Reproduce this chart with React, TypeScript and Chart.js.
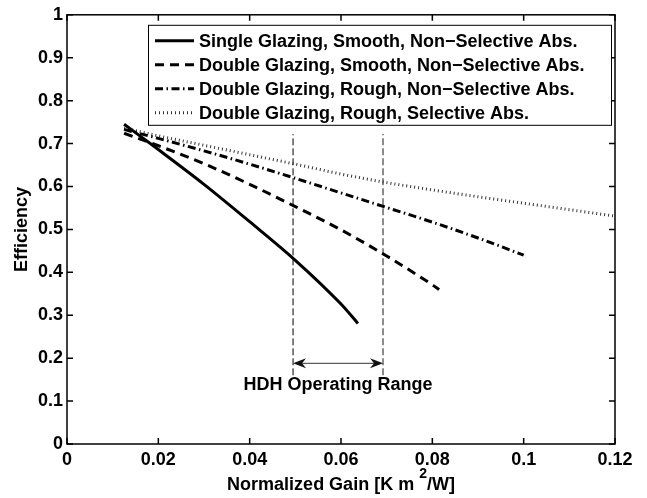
import React, { useEffect, useRef } from 'react';
import { Chart, registerables } from 'chart.js';

Chart.register(...registerables);

const FONT = '"Liberation Sans", Arial, Helvetica, sans-serif';

// ---- Data ----
const singleX = [0.0125, 0.02, 0.03, 0.04, 0.05, 0.06, 0.0637];
const singleY = [0.745, 0.686, 0.605, 0.518, 0.428, 0.326, 0.281];

const doubleSmoothX = [0.0125, 0.02, 0.03, 0.04, 0.05, 0.06, 0.07, 0.08, 0.0815];
const doubleSmoothY = [0.724, 0.695, 0.653, 0.605, 0.553, 0.499, 0.438, 0.371, 0.36];

const doubleRoughX = [0.0125, 0.02, 0.03, 0.04, 0.05, 0.06, 0.07, 0.08, 0.09, 0.1];
const doubleRoughY = [0.733, 0.712, 0.683, 0.652, 0.619, 0.585, 0.551, 0.517, 0.48, 0.44];

const selectiveX = [0.0125, 0.02, 0.03, 0.04, 0.05, 0.06, 0.07, 0.08, 0.09, 0.1, 0.11, 0.12];
const selectiveY = [0.736, 0.718, 0.696, 0.674, 0.652, 0.629, 0.609, 0.592, 0.576, 0.561, 0.546, 0.531];

const seriesLabels = [
  'Single Glazing, Smooth, Non\u2212Selective Abs.',
  'Double Glazing, Smooth, Non\u2212Selective Abs.',
  'Double Glazing, Rough, Non\u2212Selective Abs.',
  'Double Glazing, Rough, Selective Abs.',
];

const xTickValues = [0, 0.02, 0.04, 0.06, 0.08, 0.1, 0.12];
const xTickLabels = ['0', '0.02', '0.04', '0.06', '0.08', '0.1', '0.12'];
const yTickValues = [0, 0.1, 0.2, 0.3, 0.4, 0.5, 0.6, 0.7, 0.8, 0.9, 1];
const yTickLabels = ['0', '0.1', '0.2', '0.3', '0.4', '0.5', '0.6', '0.7', '0.8', '0.9', '1'];

const xTitleMain = 'Normalized Gain [K m ';
const xTitleSup = '2';
const xTitleEnd = '/W]';
const yTitle = 'Efficiency';

const rangeLimits = [0.0495, 0.0692];
const rangeLineY = [0.16, 0.722];
const arrowY = 0.188;
const rangeLabel = 'HDH Operating Range';
const rangeLabelY = 0.137;

const toPts = (xs: number[], ys: number[]) => xs.map((x, i) => ({ x, y: ys[i] }));

function drawHead(ctx: CanvasRenderingContext2D, x: number, y: number, dir: number) {
  ctx.beginPath();
  ctx.moveTo(x, y);
  ctx.lineTo(x + dir * 13, y - 5);
  ctx.lineTo(x + dir * 9, y);
  ctx.lineTo(x + dir * 13, y + 5);
  ctx.closePath();
  ctx.fill();
}

const overlay = {
  id: 'overlay',
  afterDatasetsDraw(chart: any) {
    const { ctx, chartArea: a, scales } = chart;
    const xs = scales.x;
    const ys = scales.y;
    ctx.save();

    // frame
    ctx.strokeStyle = '#000';
    ctx.lineWidth = 1.5;
    ctx.strokeRect(a.left, a.top, a.right - a.left, a.bottom - a.top);

    // inward ticks on all four sides
    const TL = 6;
    ctx.beginPath();
    xTickValues.forEach((v) => {
      const px = xs.getPixelForValue(v);
      ctx.moveTo(px, a.bottom);
      ctx.lineTo(px, a.bottom - TL);
      ctx.moveTo(px, a.top);
      ctx.lineTo(px, a.top + TL);
    });
    yTickValues.forEach((v) => {
      const py = ys.getPixelForValue(v);
      ctx.moveTo(a.left, py);
      ctx.lineTo(a.left + TL, py);
      ctx.moveTo(a.right, py);
      ctx.lineTo(a.right - TL, py);
    });
    ctx.stroke();

    // arrow heads
    const ay = ys.getPixelForValue(arrowY);
    const ax1 = xs.getPixelForValue(rangeLimits[0]);
    const ax2 = xs.getPixelForValue(rangeLimits[1]);
    ctx.fillStyle = '#111';
    drawHead(ctx, ax1, ay, 1);
    drawHead(ctx, ax2, ay, -1);

    // range label
    ctx.fillStyle = '#000';
    ctx.font = `bold 18px ${FONT}`;
    ctx.textAlign = 'center';
    ctx.textBaseline = 'middle';
    ctx.fillText(
      rangeLabel,
      xs.getPixelForValue((rangeLimits[0] + rangeLimits[1]) / 2),
      ys.getPixelForValue(rangeLabelY)
    );

    // legend box
    const bx = a.left + 81;
    const by = a.top + 10;
    const bw = a.right - 4 - bx;
    const bh = 100;
    ctx.fillStyle = '#fff';
    ctx.fillRect(bx, by, bw, bh);
    ctx.strokeStyle = '#000';
    ctx.lineWidth = 1;
    ctx.strokeRect(bx + 0.5, by + 0.5, bw, bh);
    const dsets = chart.data.datasets.slice(0, 4);
    dsets.forEach((ds: any, i: number) => {
      const ry = by + 16 + i * 24;
      ctx.save();
      ctx.strokeStyle = ds.borderColor;
      ctx.lineWidth = ds.borderWidth;
      ctx.setLineDash(ds.borderDash || []);
      ctx.beginPath();
      ctx.moveTo(bx + 7, ry);
      ctx.lineTo(bx + 46, ry);
      ctx.stroke();
      ctx.restore();
      ctx.fillStyle = '#000';
      ctx.font = `bold 18px ${FONT}`;
      ctx.textAlign = 'left';
      ctx.textBaseline = 'middle';
      ctx.fillText(ds.label, bx + 51, ry + 1);
    });

    // x-axis title with superscript
    const big = `bold 18px ${FONT}`;
    const small = `bold 14px ${FONT}`;
    ctx.font = big;
    const w1 = ctx.measureText(xTitleMain).width;
    const w3 = ctx.measureText(xTitleEnd).width;
    ctx.font = small;
    const w2 = ctx.measureText(xTitleSup).width;
    const total = w1 + w2 + w3;
    let tx = (a.left + a.right) / 2 - total / 2;
    const base = chart.height - 8;
    ctx.textAlign = 'left';
    ctx.textBaseline = 'alphabetic';
    ctx.fillStyle = '#000';
    ctx.font = big;
    ctx.fillText(xTitleMain, tx, base);
    tx += w1;
    ctx.font = small;
    ctx.fillText(xTitleSup, tx, base - 12);
    tx += w2;
    ctx.font = big;
    ctx.fillText(xTitleEnd, tx, base);

    ctx.restore();
  },
};

export default function App() {
  const ref = useRef<HTMLCanvasElement>(null);

  useEffect(() => {
    if (!ref.current) return;
    const series = {
      cubicInterpolationMode: 'monotone' as const,
      pointRadius: 0,
      borderColor: '#000',
      fill: false,
    };
    const chart = new Chart(ref.current, {
      type: 'line',
      data: {
        datasets: [
          { ...series, label: seriesLabels[0], data: toPts(singleX, singleY), borderWidth: 3, borderDash: [] },
          { ...series, label: seriesLabels[1], data: toPts(doubleSmoothX, doubleSmoothY), borderWidth: 3, borderDash: [9, 6] },
          { ...series, label: seriesLabels[2], data: toPts(doubleRoughX, doubleRoughY), borderWidth: 3, borderDash: [8, 3.5, 1.5, 3.5] },
          { ...series, label: seriesLabels[3], data: toPts(selectiveX, selectiveY), borderWidth: 3, borderDash: [1, 3], borderColor: '#333' },
          {
            label: 'range-left',
            data: [{ x: rangeLimits[0], y: rangeLineY[0] }, { x: rangeLimits[0], y: rangeLineY[1] }],
            borderColor: '#000', borderWidth: 1, borderDash: [7, 3], pointRadius: 0, tension: 0,
          },
          {
            label: 'range-right',
            data: [{ x: rangeLimits[1], y: rangeLineY[0] }, { x: rangeLimits[1], y: rangeLineY[1] }],
            borderColor: '#666', borderWidth: 1.5, borderDash: [7, 3], pointRadius: 0, tension: 0,
          },
          {
            label: 'range-arrow',
            data: [{ x: rangeLimits[0] + 0.0015, y: arrowY }, { x: rangeLimits[1] - 0.0015, y: arrowY }],
            borderColor: '#333', borderWidth: 1, pointRadius: 0, tension: 0,
          },
        ],
      },
      options: {
        responsive: false,
        animation: false,
        devicePixelRatio: 1,
        layout: { padding: { left: 0, top: 13, right: 32, bottom: 0 } },
        plugins: { legend: { display: false }, tooltip: { enabled: false } },
        scales: {
          x: {
            type: 'linear',
            min: 0,
            max: 0.12,
            grid: { display: false, drawTicks: false },
            border: { display: false },
            afterBuildTicks: (s: any) => {
              s.ticks = xTickValues.map((v) => ({ value: v }));
            },
            afterFit: (s: any) => {
              s.height = 54;
            },
            ticks: {
              autoSkip: false,
              maxRotation: 0,
              padding: 5,
              color: '#000',
              font: { family: FONT, size: 18, weight: 'bold' },
              callback: (_v: any, i: number) => xTickLabels[i],
            },
          },
          y: {
            type: 'linear',
            min: 0,
            max: 1,
            grid: { display: false, drawTicks: false },
            border: { display: false },
            afterBuildTicks: (s: any) => {
              s.ticks = yTickValues.map((v) => ({ value: v }));
            },
            afterFit: (s: any) => {
              s.width = 67;
            },
            title: {
              display: true,
              text: yTitle,
              color: '#000',
              padding: { top: 11, bottom: 0 },
              font: { family: FONT, size: 18, weight: 'bold' },
            },
            ticks: {
              autoSkip: false,
              padding: 4,
              color: '#000',
              font: { family: FONT, size: 18, weight: 'bold' },
              callback: (_v: any, i: number) => yTickLabels[i],
            },
          },
        },
      },
      plugins: [overlay],
    } as any);
    return () => chart.destroy();
  }, []);

  return (
    <div style={{ position: 'absolute', left: 0, top: 0, width: 647, height: 498, background: '#fff' }}>
      <canvas ref={ref} width={647} height={498} style={{ display: 'block', width: 647, height: 498 }} />
    </div>
  );
}
